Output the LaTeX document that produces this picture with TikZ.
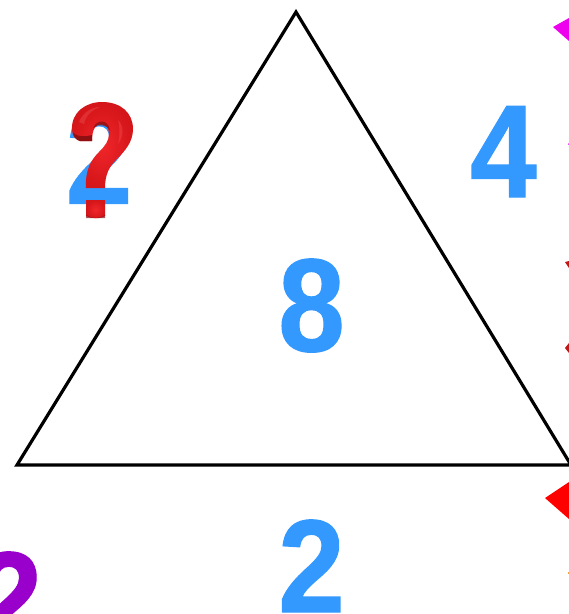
\documentclass[tikz,border=0pt]{standalone}
\usepackage{fontspec}
\setmainfont{Liberation Sans}[BoldFeatures={FakeBold=1}]
\definecolor{numblue}{HTML}{3399FF}
\definecolor{numpurple}{HTML}{9900CC}
\definecolor{qred}{HTML}{F0262A}
\definecolor{qedge}{HTML}{D41519}
\definecolor{qdark}{HTML}{8E1012}
\definecolor{qlight}{HTML}{F2595C}
\definecolor{tipred}{HTML}{FF0000}
\definecolor{tipdark}{HTML}{C01818}
\definecolor{tipmagenta}{HTML}{EE00EE}
\definecolor{tiporange}{HTML}{F0A040}
\newcommand{\digit}[1]{\scalebox{.905}[1]{#1}}
\tikzset{
  num/.style={font=\fontsize{132}{132}\selectfont\bfseries, text=numblue, inner sep=0pt, anchor=base},
  edge/.style={draw=black, line width=3.2pt, line join=miter},
  qbody/.style={inner color=qred, outer color=qedge},
}
\begin{document}
\begin{tikzpicture}[x=1pt,y=-1pt]
\useasboundingbox (0,0) rectangle (569,614);
\clip (0,0) rectangle (569,614);
\fill[white] (0,0) rectangle (569,614);
% triangle
\coordinate (apex) at (296,12);
\coordinate (bl) at (17,465);
\coordinate (br) at (571,465);
\draw[edge] (apex) -- (bl) -- (br) -- cycle;
% numbers
\node[num] (eight) at (311.5,351) {\digit{8}};
\node[num] (four) at (503.5,197) {\digit{4}};
\node[num] (two) at (311.5,612) {\digit{2}};
\node[num] (hidden) at (99,203.5) {\digit{2}};
\node[num,text=numpurple] (purple) at (9,644) {\digit{2}};
% clipped marks at the right edge
\fill[tipmagenta] (553,27) -- (569,18) -- (569,41) -- cycle;
\fill[tipmagenta] (568,144) -- (569,143) -- (569,145) -- cycle;
\fill[tipdark] (565,262) -- (569,261) -- (569,268) -- cycle;
\fill[tipdark] (565,348) -- (569,343) -- (569,353) -- cycle;
\fill[tipred] (545,498) -- (569,482) -- (569,519) -- cycle;
\fill[tiporange] (568,572) rectangle (569,574);
% question mark
\path[qbody] (72,130)
  .. controls (71,112) and (86,102) .. (102,102)
  .. controls (121,102) and (133,113) .. (133,129)
  .. controls (133,142) and (125,151) .. (116,160)
  .. controls (109,167) and (105,175) .. (105,188)
  -- (86,188)
  .. controls (85,170) and (91,160) .. (99,152)
  .. controls (105,146) and (109,141) .. (109,134)
  .. controls (109,128) and (106,124) .. (101,124)
  .. controls (96,124) and (92,129) .. (92,141)
  -- (80,141) .. controls (76,140) and (72,136) .. (72,130) -- cycle;
\path[fill=qdark] (92,141) -- (80,141) .. controls (76,140) and (74,137) .. (73,133)
  .. controls (78,137) and (85,137) .. (92,135) -- cycle;
\path[fill=qdark,opacity=.8] (93,128) .. controls (97,119) and (108,119) .. (110,130)
  .. controls (107,125) and (98,123) .. (93,128) -- cycle;
\path[fill=qlight,opacity=.35] (79,122) .. controls (83,112) and (92,107) .. (100,107)
  .. controls (92,110) and (86,115) .. (84,124) -- cycle;
\path[fill=qlight,opacity=.35] (118,120) .. controls (124,126) and (124,136) .. (118,144)
  .. controls (120,136) and (120,128) .. (118,120) -- cycle;
\path[qbody] (86,200) -- (105,200) -- (105,216) .. controls (100,219) and (92,219) .. (86,216) -- cycle;
\path[fill=qdark,opacity=.7] (86,215) .. controls (92,219) and (100,219) .. (105,215) -- (105,218) -- (86,218) -- cycle;
\end{tikzpicture}
\end{document}
